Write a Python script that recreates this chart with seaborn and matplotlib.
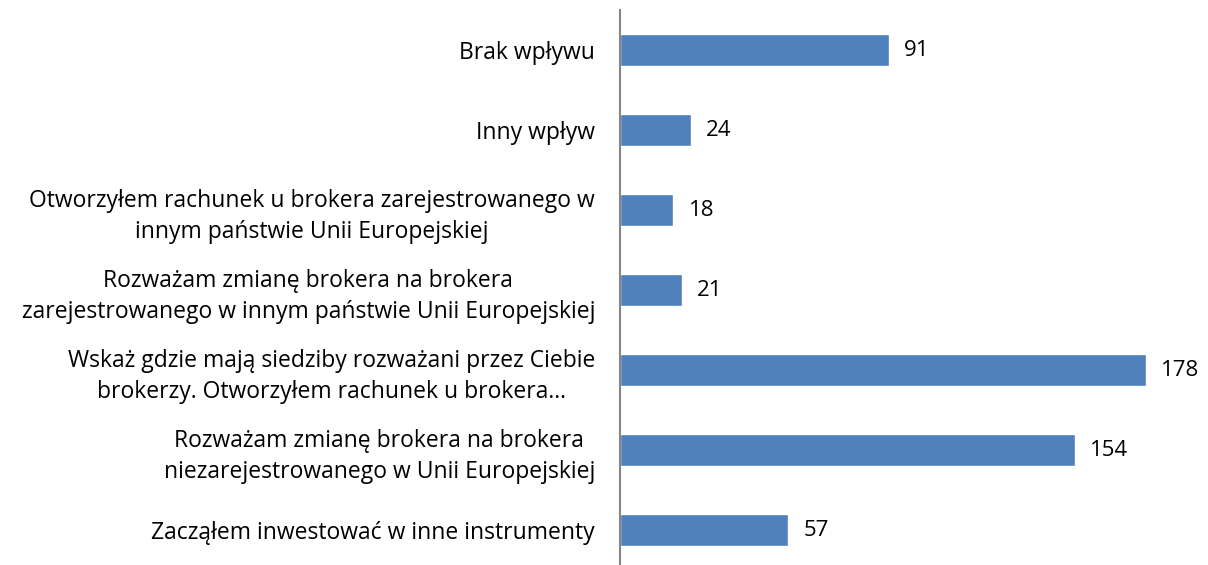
import matplotlib
matplotlib.use("Agg")
import matplotlib.pyplot as plt
import seaborn as sns
import pandas as pd

categories = [
    "Brak wpływu",
    "Inny wpływ",
    "Otworzyłem rachunek u brokera zarejestrowanego w\ninnym państwie Unii Europejskiej",
    "Rozważam zmianę brokera na brokera\nzarejestrowanego w innym państwie Unii Europejskiej",
    "Wskaż gdzie mają siedziby rozważani przez Ciebie\nbrokerzy. Otworzyłem rachunek u brokera…",
    "Rozważam zmianę brokera na brokera\nniezarejestrowanego w Unii Europejskiej",
    "Zacząłem inwestować w inne instrumenty",
]
values = [91, 24, 18, 21, 178, 154, 57]

df = pd.DataFrame({"kategoria": categories, "liczba": values})

sns.set_theme(style="white")
plt.rcParams["font.family"] = ["Open Sans", "DejaVu Sans"]

fig = plt.figure(figsize=(12.08, 5.65), dpi=100)
ax = fig.add_axes([620 / 1208, -5 / 565, 588 / 1208, 560 / 565])

sns.barplot(data=df, y="kategoria", x="liczba", orient="h", color="#4F81BD",
            saturation=1, width=0.39, ax=ax)

ax.set_xlim(0, 199)
ax.set_ylim(6.5, -0.5)
ax.set_xlabel("")
ax.set_ylabel("")
ax.set_xticks([])

for s in ["top", "right", "bottom"]:
    ax.spines[s].set_visible(False)
ax.spines["left"].set_color("#868686")
ax.spines["left"].set_linewidth(1.5)

ax.tick_params(axis="y", length=0, pad=18, labelsize=16.5, labelcolor="black")
for lbl in ax.get_yticklabels():
    lbl.set_multialignment("center")
    lbl.set_linespacing(1.4)

ax.bar_label(ax.containers[0], padding=11, fontsize=16, color="black")

fig.savefig("out.png", dpi=100)
